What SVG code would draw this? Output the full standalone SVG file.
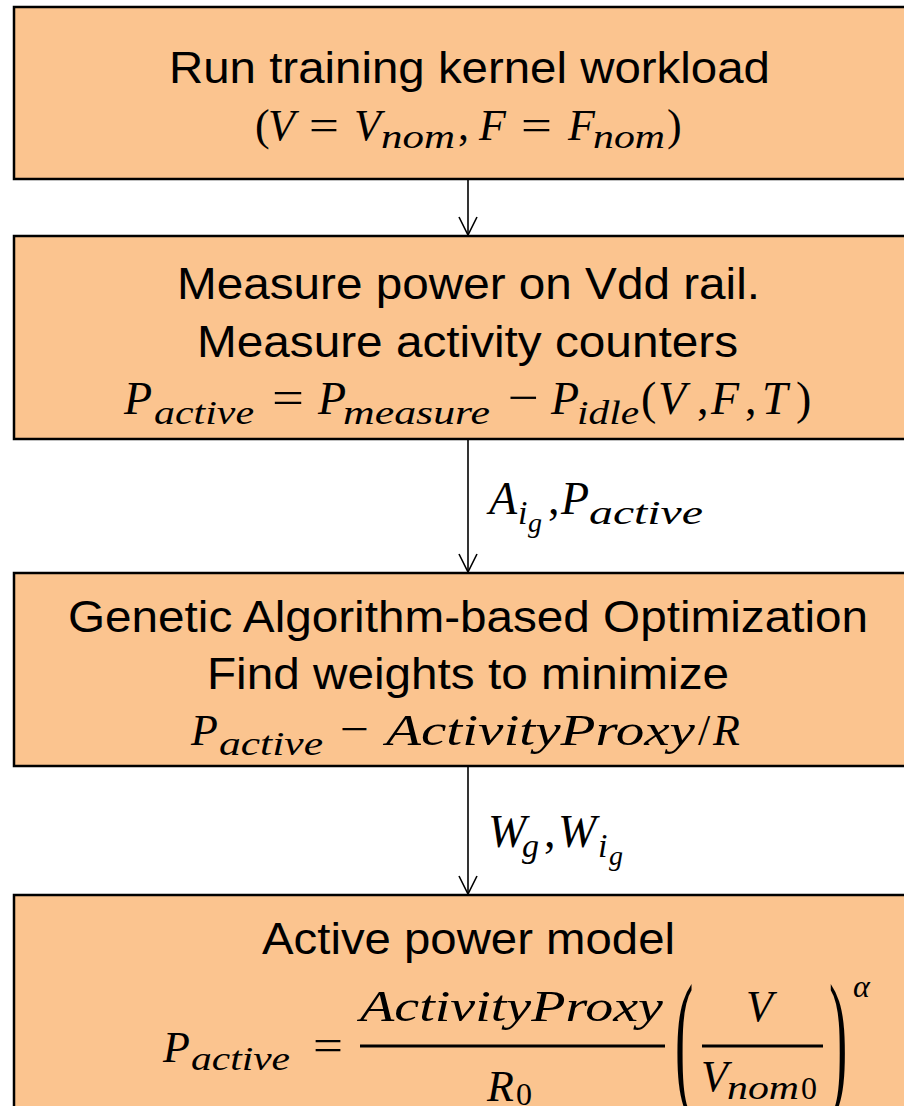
<svg xmlns="http://www.w3.org/2000/svg" width="904" height="1106" viewBox="0 0 904 1106">
<style>
.box{fill:#FBC48F;stroke:#000;stroke-width:2.5}
.t{font-family:"Liberation Sans",Arial,sans-serif;font-size:45px;fill:#000}
.m{font-family:"Liberation Serif","Times New Roman",serif;font-style:italic;fill:#000}
.u{font-style:normal}
.bp{font-family:"Liberation Serif",serif;font-size:50px;fill:#000}
.bar{stroke:#000;stroke-width:3}
.conn{stroke:#000;stroke-width:1.6;fill:none}
</style>
<defs>
<marker id="ah" viewBox="0 0 20 20" refX="19" refY="10" markerWidth="20" markerHeight="20" markerUnits="userSpaceOnUse" orient="auto">
<path d="M1,1 L19,10 L1,19" fill="none" stroke="#000" stroke-width="1.6"/>
</marker>
</defs>
<rect width="904" height="1106" fill="#fff"/>

<g id="connectors">
<line class="conn" x1="468" y1="180" x2="468" y2="235" marker-end="url(#ah)"/>
<line class="conn" x1="468" y1="440" x2="468" y2="572" marker-end="url(#ah)"/>
<line class="conn" x1="468" y1="767" x2="468" y2="894" marker-end="url(#ah)"/>
<text class="m" font-size="46"><tspan x="489" y="514">A</tspan><tspan x="518" y="524" font-size="34">i</tspan><tspan x="528" y="532" font-size="28">g</tspan><tspan class="u" x="548" y="514">,</tspan><tspan x="561" y="514">P</tspan><tspan x="589" y="524" font-size="34" textLength="114" lengthAdjust="spacingAndGlyphs">active</tspan></text>
<text class="m" font-size="46"><tspan x="488" y="847">W</tspan><tspan x="522" y="857" font-size="34">g</tspan><tspan class="u" x="544" y="847">,</tspan><tspan x="558" y="847">W</tspan><tspan x="598" y="857" font-size="34">i</tspan><tspan x="609" y="865" font-size="28">g</tspan></text>
</g>

<g id="node1">
<rect class="box" x="14" y="7" width="930" height="172"/>
<text class="t" x="169" y="83" textLength="601" lengthAdjust="spacingAndGlyphs">Run training kernel workload</text>
<text class="m" font-size="44"><tspan class="u" x="255" y="140">(</tspan><tspan x="268" y="140">V</tspan><tspan class="u" x="309" y="140" textLength="30" lengthAdjust="spacingAndGlyphs">=</tspan><tspan x="354" y="140">V</tspan><tspan x="381" y="148" font-size="33" textLength="74" lengthAdjust="spacingAndGlyphs">nom</tspan><tspan class="u" x="458" y="140">,</tspan><tspan x="479" y="140">F</tspan><tspan class="u" x="521" y="140" textLength="31" lengthAdjust="spacingAndGlyphs">=</tspan><tspan x="568" y="140">F</tspan><tspan x="593" y="148" font-size="33" textLength="72" lengthAdjust="spacingAndGlyphs">nom</tspan><tspan class="u" x="667" y="140">)</tspan></text>
</g>

<g id="node2">
<rect class="box" x="14" y="236" width="930" height="203"/>
<text class="t" x="177" y="299" textLength="583" lengthAdjust="spacingAndGlyphs">Measure power on Vdd rail.</text>
<text class="t" x="197" y="357" textLength="541" lengthAdjust="spacingAndGlyphs">Measure activity counters</text>
<text class="m" font-size="46"><tspan x="124" y="414">P</tspan><tspan x="154" y="424" font-size="34" textLength="100" lengthAdjust="spacingAndGlyphs">active</tspan><tspan class="u" x="272" y="413" textLength="32" lengthAdjust="spacingAndGlyphs">=</tspan><tspan x="318" y="414">P</tspan><tspan x="343" y="424" font-size="34" textLength="147" lengthAdjust="spacingAndGlyphs">measure</tspan><tspan class="u" x="508" y="413" textLength="31" lengthAdjust="spacingAndGlyphs">−</tspan><tspan x="551" y="414">P</tspan><tspan x="577" y="424" font-size="34" textLength="62" lengthAdjust="spacingAndGlyphs">idle</tspan><tspan class="u" x="641" y="414">(</tspan><tspan x="658" y="414">V</tspan><tspan class="u" x="697" y="414">,</tspan><tspan x="711" y="414">F</tspan><tspan class="u" x="745" y="414">,</tspan><tspan x="762" y="414">T</tspan><tspan class="u" x="796" y="414">)</tspan></text>
</g>

<g id="node3">
<rect class="box" x="14" y="573" width="930" height="193"/>
<text class="t" x="68" y="632" textLength="800" lengthAdjust="spacingAndGlyphs">Genetic Algorithm-based Optimization</text>
<text class="t" x="207" y="689" textLength="522" lengthAdjust="spacingAndGlyphs">Find weights to minimize</text>
<text class="m" font-size="44"><tspan x="191" y="745">P</tspan><tspan x="219" y="755" font-size="33" textLength="104" lengthAdjust="spacingAndGlyphs">active</tspan><tspan class="u" x="340" y="744" textLength="29" lengthAdjust="spacingAndGlyphs">−</tspan><tspan x="386" y="745" textLength="309" lengthAdjust="spacingAndGlyphs">ActivityProxy</tspan><tspan class="u" x="698" y="745">/</tspan><tspan x="713" y="745">R</tspan></text>
</g>

<g id="node4">
<rect class="box" x="14" y="895" width="930" height="240"/>
<text class="t" x="262" y="954" textLength="413" lengthAdjust="spacingAndGlyphs">Active power model</text>
<text class="m" font-size="44"><tspan x="163" y="1062">P</tspan><tspan x="191" y="1070" font-size="33" textLength="99" lengthAdjust="spacingAndGlyphs">active</tspan><tspan class="u" x="313" y="1060" textLength="30" lengthAdjust="spacingAndGlyphs">=</tspan></text>
<line class="bar" x1="360" y1="1046" x2="665" y2="1046"/>
<text class="m" font-size="44" x="360" y="1021" textLength="303" lengthAdjust="spacingAndGlyphs">ActivityProxy</text>
<text class="m" font-size="44"><tspan x="487" y="1101">R</tspan><tspan class="u" x="516" y="1105" font-size="32">0</tspan></text>
<text class="bp" transform="translate(675,1090) scale(1.1,3.05)" x="0" y="0">(</text>
<line class="bar" x1="702" y1="1046" x2="823" y2="1046"/>
<text class="m" font-size="44" x="746" y="1021">V</text>
<text class="m" font-size="44"><tspan x="701" y="1091">V</tspan><tspan x="727" y="1099" font-size="33" textLength="72" lengthAdjust="spacingAndGlyphs">nom</tspan><tspan class="u" x="801" y="1099" font-size="32">0</tspan></text>
<text class="bp" transform="translate(829,1090) scale(1.1,3.05)" x="0" y="0">)</text>
<text class="m" font-size="32" x="853" y="997">α</text>
</g>
</svg>
